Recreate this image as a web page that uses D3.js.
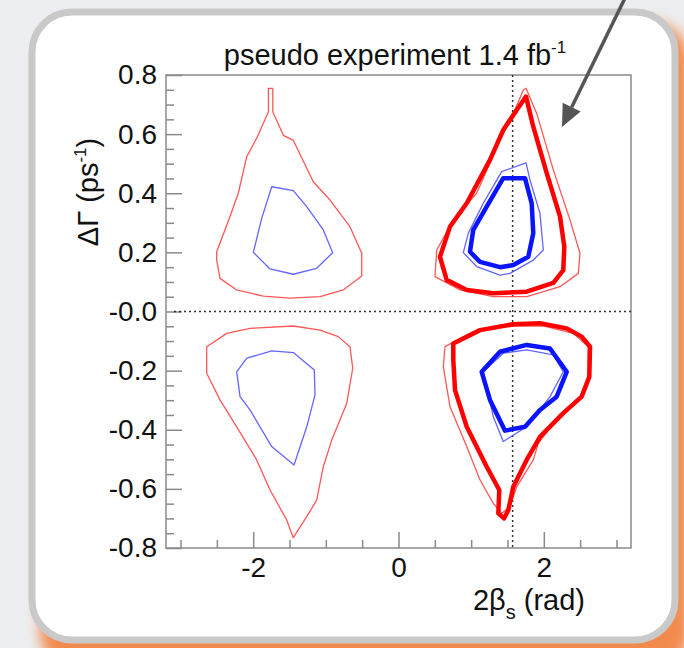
<!DOCTYPE html>
<html>
<head>
<meta charset="utf-8">
<script src="https://cdn.jsdelivr.net/npm/d3@7"></script>
<style>
  html, body { margin: 0; padding: 0; background: #eceef1; }
  svg { display: block; font-family: "Liberation Sans", Arial, sans-serif; }
</style>
</head>
<body>
<svg width="684" height="648"></svg>
<script>
// axis ticks / labels
const xMajor = [-2, 0, 2];
const xLabels = ['-2', '0', '2'];
const xMinor = [-3, -2.5, -1.5, -1, -0.5, 0.5, 1, 1.5, 2.5, 3];
const yMajor = [0.8, 0.6, 0.4, 0.2, 0, -0.2, -0.4, -0.6, -0.8];
const yLabels = ['0.8', '0.6', '0.4', '0.2', '-0.0', '-0.2', '-0.4', '-0.6', '-0.8'];
const markerX = Math.PI / 2;

// contours, [2beta_s, dGamma]
const leftTopRed = [[-2.502,0.202],[-2.319,0.321],[-2.205,0.400],[-2.089,0.524],[-1.952,0.586],[-1.79,0.676],[-1.79,0.755],[-1.73,0.755],[-1.73,0.676],[-1.585,0.596],[-1.448,0.579],[-1.173,0.439],[-0.943,0.377],[-0.668,0.287],[-0.506,0.197],[-0.506,0.120],[-0.760,0.073],[-1.080,0.050],[-1.493,0.045],[-1.861,0.052],[-2.227,0.073],[-2.457,0.112],[-2.502,0.174]];
const leftTopBlue = [[-1.745,0.422],[-1.448,0.409],[-1.263,0.355],[-1.035,0.276],[-0.906,0.199],[-1.126,0.146],[-1.448,0.126],[-1.768,0.144],[-1.998,0.200],[-1.883,0.315]];
const leftBotRed = [[-2.640,-0.119],[-2.364,-0.074],[-2.044,-0.057],[-1.448,-0.049],[-1.080,-0.063],[-0.829,-0.085],[-0.668,-0.119],[-0.630,-0.192],[-0.713,-0.311],[-0.919,-0.435],[-1.035,-0.525],[-1.126,-0.638],[-1.263,-0.694],[-1.448,-0.765],[-1.539,-0.705],[-1.768,-0.604],[-1.952,-0.502],[-2.227,-0.390],[-2.457,-0.299],[-2.640,-0.209]];
const leftBotBlue = [[-2.227,-0.204],[-2.089,-0.158],[-1.745,-0.133],[-1.448,-0.139],[-1.159,-0.198],[-1.149,-0.282],[-1.263,-0.390],[-1.438,-0.519],[-1.745,-0.457],[-2.044,-0.333],[-2.181,-0.288]];
const rightTopRedThin = [[1.755,0.755],[1.902,0.670],[2.131,0.479],[2.360,0.310],[2.498,0.197],[2.475,0.129],[2.223,0.084],[1.764,0.050],[1.305,0.050],[0.846,0.073],[0.502,0.118],[0.526,0.208],[0.754,0.310],[1.076,0.400],[1.397,0.580],[1.580,0.670],[1.718,0.749]];
const rightTopRed = [[1.755,0.727],[1.855,0.625],[2.040,0.468],[2.223,0.321],[2.282,0.219],[2.268,0.140],[2.131,0.097],[1.764,0.067],[1.305,0.062],[0.939,0.073],[0.663,0.107],[0.571,0.185],[0.709,0.287],[0.939,0.366],[1.259,0.513],[1.442,0.614],[1.627,0.682]];
const rightTopBlueThin = [[1.420,0.473],[1.755,0.503],[1.810,0.445],[1.947,0.332],[1.993,0.208],[1.855,0.174],[1.535,0.129],[1.397,0.123],[1.076,0.152],[0.892,0.199],[0.961,0.265],[1.167,0.366]];
const rightTopBlue = [[1.442,0.451],[1.741,0.451],[1.833,0.366],[1.855,0.265],[1.786,0.185],[1.580,0.157],[1.397,0.150],[1.122,0.168],[0.984,0.202],[1.029,0.276],[1.214,0.355]];
const rightBotRedThin = [[0.640,-0.119],[1.029,-0.068],[1.580,-0.049],[1.993,-0.049],[2.406,-0.074],[2.612,-0.119],[2.612,-0.221],[2.498,-0.288],[2.223,-0.350],[1.924,-0.446],[1.855,-0.502],[1.627,-0.593],[1.535,-0.660],[1.420,-0.683],[1.305,-0.649],[1.122,-0.570],[0.939,-0.457],[0.709,-0.322],[0.617,-0.187]];
const rightBotRed = [[0.754,-0.108],[1.122,-0.063],[1.580,-0.043],[1.947,-0.040],[2.315,-0.057],[2.521,-0.085],[2.636,-0.119],[2.626,-0.221],[2.521,-0.288],[2.268,-0.344],[1.947,-0.424],[1.764,-0.502],[1.580,-0.593],[1.511,-0.672],[1.452,-0.700],[1.374,-0.683],[1.387,-0.604],[1.214,-0.525],[0.939,-0.390],[0.778,-0.266],[0.754,-0.164]];
const rightBotBlueThin = [[1.167,-0.204],[1.442,-0.141],[1.764,-0.130],[2.131,-0.147],[2.268,-0.204],[2.085,-0.288],[1.764,-0.390],[1.442,-0.440],[1.305,-0.356]];
const rightBotBlue = [[1.145,-0.204],[1.397,-0.136],[1.764,-0.113],[2.085,-0.125],[2.315,-0.204],[2.177,-0.288],[1.947,-0.333],[1.741,-0.390],[1.466,-0.403],[1.259,-0.299]];

const svg = d3.select('svg');
const W = 684, H = 648;

// backdrop with orange glow behind the card
const defs = svg.append('defs');
defs.append('filter').attr('id', 'glow')
    .attr('x', '-20%').attr('y', '-20%').attr('width', '140%').attr('height', '140%')
  .append('feGaussianBlur').attr('stdDeviation', 7);

svg.append('rect').attr('width', W).attr('height', H).attr('fill', '#eceef1');
svg.append('rect')
    .attr('x', 40).attr('y', 22).attr('width', 650).attr('height', 650)
    .attr('rx', 40)
    .attr('fill', '#f28a4e')
    .attr('filter', 'url(#glow)');

svg.append('rect')
    .attr('x', 32).attr('y', 12).attr('width', 643).attr('height', 628)
    .attr('rx', 40)
    .attr('fill', '#ffffff')
    .attr('stroke', '#c9c9c9')
    .attr('stroke-width', 7);

const margin = { top: 75, left: 166, right: 631, bottom: 548 };

const xScale = d3.scaleLinear().domain([-3.2, 3.2]).range([margin.left, margin.right]);
const yScale = d3.scaleLinear().domain([-0.8, 0.8]).range([margin.bottom, margin.top]);

const axisColor = '#8a8a8a';

// minor / major ticks, pointing inward
const yMinorVals = d3.range(-16, 17).map(i => i * 0.05).filter(v => Math.abs(Math.round(v * 5) - v * 5) > 1e-6);

const yMinorG = svg.append('g')
    .attr('transform', `translate(${margin.left},0)`)
    .call(d3.axisLeft(yScale).tickValues(yMinorVals).tickSize(-8).tickFormat(''));
const yMajorG = svg.append('g')
    .attr('transform', `translate(${margin.left},0)`)
    .call(d3.axisLeft(yScale).tickValues(yMajor).tickSize(-16).tickPadding(9)
        .tickFormat((d, i) => yLabels[i]));

const xMinorG = svg.append('g')
    .attr('transform', `translate(0,${margin.bottom})`)
    .call(d3.axisBottom(xScale).tickValues(xMinor).tickSize(-8).tickFormat(''));
const xMajorG = svg.append('g')
    .attr('transform', `translate(0,${margin.bottom})`)
    .call(d3.axisBottom(xScale).tickValues(xMajor).tickSize(-16).tickPadding(9)
        .tickFormat((d, i) => xLabels[i]));

[yMinorG, yMajorG, xMinorG, xMajorG].forEach(g => {
    g.select('.domain').remove();
    g.selectAll('line').attr('stroke', axisColor).attr('stroke-width', 1.5);
    g.selectAll('text')
        .attr('fill', '#111')
        .attr('font-family', '"Liberation Sans", Arial, sans-serif')
        .attr('font-size', 28);
});
xMajorG.selectAll('text').attr('dy', '0.72em');

// frame
svg.append('rect')
    .attr('x', margin.left).attr('y', margin.top)
    .attr('width', margin.right - margin.left)
    .attr('height', margin.bottom - margin.top)
    .attr('fill', 'none')
    .attr('stroke', axisColor)
    .attr('stroke-width', 1.5);

// dotted reference lines
svg.append('line')
    .attr('x1', margin.left + 8).attr('x2', margin.right)
    .attr('y1', yScale(0)).attr('y2', yScale(0))
    .attr('stroke', '#333').attr('stroke-width', 1.5)
    .attr('stroke-dasharray', '2,3');
svg.append('line')
    .attr('x1', xScale(markerX)).attr('x2', xScale(markerX))
    .attr('y1', margin.top).attr('y2', margin.bottom)
    .attr('stroke', '#333').attr('stroke-width', 1.5)
    .attr('stroke-dasharray', '2,3');

// contours
const contour = d3.line()
    .x(d => xScale(d[0]))
    .y(d => yScale(d[1]))
    .curve(d3.curveLinearClosed);

const thinRed = { stroke: '#ff3a3a', width: 1.3, opacity: 0.85 };
const thickRed = { stroke: '#ff0000', width: 4.5, opacity: 1 };
const thinBlue = { stroke: '#4a4aff', width: 1.3, opacity: 0.85 };
const thickBlue = { stroke: '#0a14ff', width: 4.5, opacity: 1 };

const layers = [
    [leftTopRed, thinRed], [leftTopBlue, thinBlue],
    [leftBotRed, thinRed], [leftBotBlue, thinBlue],
    [rightTopRedThin, thinRed], [rightTopRed, thickRed],
    [rightTopBlueThin, thinBlue], [rightTopBlue, thickBlue],
    [rightBotRedThin, thinRed], [rightBotRed, thickRed],
    [rightBotBlueThin, thinBlue], [rightBotBlue, thickBlue]
];

svg.append('g').selectAll('path')
    .data(layers)
    .join('path')
    .attr('d', d => contour(d[0]))
    .attr('fill', 'none')
    .attr('stroke', d => d[1].stroke)
    .attr('stroke-width', d => d[1].width)
    .attr('stroke-opacity', d => d[1].opacity)
    .attr('stroke-linejoin', 'round');

// title
const title = svg.append('text')
    .attr('x', 395).attr('y', 65)
    .attr('text-anchor', 'middle')
    .attr('font-size', 29)
    .attr('fill', '#111');
title.append('tspan').text('pseudo experiment 1.4 fb');
title.append('tspan').attr('font-size', 17).attr('dy', -12).text('-1');

// axis titles
const xTitle = svg.append('text')
    .attr('x', 585).attr('y', 610)
    .attr('text-anchor', 'end')
    .attr('font-size', 29)
    .attr('fill', '#111');
xTitle.append('tspan').text('2β');
xTitle.append('tspan').attr('font-size', 20).attr('dy', 9).text('s');
xTitle.append('tspan').attr('dy', -9).text(' (rad)');

const yTitle = svg.append('text')
    .attr('transform', 'translate(98,192) rotate(-90)')
    .attr('text-anchor', 'middle')
    .attr('font-size', 29)
    .attr('fill', '#111');
yTitle.append('tspan').text('ΔΓ (ps');
yTitle.append('tspan').attr('font-size', 17).attr('dy', -12).text('-1');
yTitle.append('tspan').attr('dy', 12).text(')');

// pointer arrow from the slide
const arrow = svg.append('g').attr('fill', '#555').attr('stroke', '#555');
const tip = [562, 127], from = [626, -4];
const ang = Math.atan2(tip[1] - from[1], tip[0] - from[0]);
const headLen = 22, headW = 10;
const base = [tip[0] - headLen * Math.cos(ang), tip[1] - headLen * Math.sin(ang)];
arrow.append('line')
    .attr('x1', from[0]).attr('y1', from[1])
    .attr('x2', base[0]).attr('y2', base[1])
    .attr('stroke-width', 3.5);
arrow.append('path')
    .attr('stroke', 'none')
    .attr('d', d3.line()([
        tip,
        [base[0] + headW * Math.sin(ang), base[1] - headW * Math.cos(ang)],
        [base[0] - headW * Math.sin(ang), base[1] + headW * Math.cos(ang)]
    ]) + 'Z');
</script>
</body>
</html>
